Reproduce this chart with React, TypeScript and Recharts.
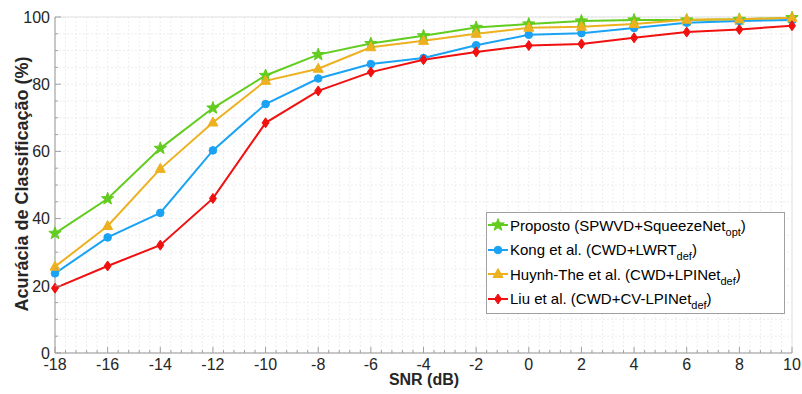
import { LineChart, Line, XAxis, YAxis, CartesianGrid } from "recharts";

// SNR (dB) and classification accuracy (%) per method
const snr = [-18, -16, -14, -12, -10, -8, -6, -4, -2, 0, 2, 4, 6, 8, 10];
const proposto = [35.6, 45.9, 60.9, 72.9, 82.6, 88.8, 92.1, 94.4, 96.9, 97.9, 98.8, 99.1, 99.1, 99.3, 99.8];
const kong = [23.7, 34.4, 41.7, 60.3, 74.1, 81.7, 86.0, 87.8, 91.6, 94.7, 95.2, 96.7, 98.3, 98.8, 99.1];
const huynh = [25.7, 37.8, 54.8, 68.6, 81.0, 84.6, 91.0, 92.9, 95.0, 96.8, 97.1, 97.9, 99.2, 99.3, 99.8];
const liu = [19.3, 25.9, 32.1, 46.0, 68.5, 78.0, 83.6, 87.3, 89.6, 91.5, 92.0, 93.8, 95.5, 96.3, 97.4];

const xTicks = [-18, -16, -14, -12, -10, -8, -6, -4, -2, 0, 2, 4, 6, 8, 10];
const yTicks = [0, 20, 40, 60, 80, 100];

// minor ticks: 5 per x step, 4 per y step
const xMinor = Array.from({ length: 71 }, (_, i) => Math.round((-18 + i * 0.4) * 10) / 10);
const yMinor = Array.from({ length: 21 }, (_, i) => i * 5);

const data = snr.map((s, i) => ({
    snr: s,
    proposto: proposto[i],
    kong: kong[i],
    huynh: huynh[i],
    liu: liu[i],
}));

const GREEN = "#62cc1f";
const BLUE = "#1aa3f5";
const ORANGE = "#edb120";
const RED = "#f01010";
const AXIS = "#a0a0a0";
const TEXT = "#262626";
const FONT = "'Liberation Sans', Arial, sans-serif";

const onStep = (v: number, step: number) => Math.abs(v / step - Math.round(v / step)) < 1e-6;

function Star({ cx, cy, color }: any) {
    const pts: string[] = [];
    for (let i = 0; i < 10; i++) {
        const r = i % 2 === 0 ? 6.5 : 2.7;
        const a = -Math.PI / 2 + (i * Math.PI) / 5;
        pts.push(`${cx + r * Math.cos(a)},${cy + r * Math.sin(a)}`);
    }
    return <polygon points={pts.join(" ")} fill={color} stroke={color} strokeWidth={1} />;
}

function Circle({ cx, cy, color }: any) {
    return <circle cx={cx} cy={cy} r={3.8} fill={color} stroke={color} />;
}

function Triangle({ cx, cy, color }: any) {
    return (
        <polygon
            points={`${cx},${cy - 5.5} ${cx + 5},${cy + 3.5} ${cx - 5},${cy + 3.5}`}
            fill={color}
            stroke={color}
            strokeWidth={1}
        />
    );
}

function Diamond({ cx, cy, color }: any) {
    return (
        <polygon
            points={`${cx},${cy - 5} ${cx + 3.5},${cy} ${cx},${cy + 5} ${cx - 3.5},${cy}`}
            fill={color}
            stroke={color}
            strokeWidth={1}
        />
    );
}

const series = [
    { key: "proposto", color: GREEN, Marker: Star, label: "Proposto (SPWVD+SqueezeNet", sub: "opt" },
    { key: "kong", color: BLUE, Marker: Circle, label: "Kong et al. (CWD+LWRT", sub: "def" },
    { key: "huynh", color: ORANGE, Marker: Triangle, label: "Huynh-The et al. (CWD+LPINet", sub: "def" },
    { key: "liu", color: RED, Marker: Diamond, label: "Liu et al. (CWD+CV-LPINet", sub: "def" },
];

function BottomTick({ x, y, payload }: any) {
    const major = onStep(payload.value, 2);
    return (
        <g>
            <line x1={x} x2={x} y1={y} y2={y - (major ? 6 : 3)} stroke={AXIS} />
            {major && (
                <text x={x} y={y + 16.5} textAnchor="middle" fontSize={16} fill={TEXT} fontFamily={FONT}>
                    {payload.value}
                </text>
            )}
        </g>
    );
}

function TopTick({ x, y, payload }: any) {
    const major = onStep(payload.value, 2);
    return <line x1={x} x2={x} y1={y} y2={y + (major ? 6 : 3)} stroke={AXIS} />;
}

function LeftTick({ x, y, payload }: any) {
    const major = onStep(payload.value, 20);
    return (
        <g>
            <line x1={x} x2={x + (major ? 6 : 3)} y1={y} y2={y} stroke={AXIS} />
            {major && (
                <text x={x - 5} y={y} dy="0.36em" textAnchor="end" fontSize={16} fill={TEXT} fontFamily={FONT}>
                    {payload.value}
                </text>
            )}
        </g>
    );
}

function RightTick({ x, y, payload }: any) {
    const major = onStep(payload.value, 20);
    return <line x1={x} x2={x - (major ? 6 : 3)} y1={y} y2={y} stroke={AXIS} />;
}

function LegendBox() {
    return (
        <div
            style={{
                position: "absolute",
                left: 486,
                top: 212,
                width: 299,
                height: 102,
                boxSizing: "border-box",
                border: `1px solid ${AXIS}`,
                background: "#fff",
                fontFamily: FONT,
                fontSize: 15,
                color: "#000",
            }}
        >
            {series.map((s) => (
                <div key={s.key} style={{ height: 24.5, display: "flex", alignItems: "center", whiteSpace: "nowrap" }}>
                    <svg width={23} height={20} style={{ flex: "none" }}>
                        <line x1={1} x2={21} y1={10} y2={10} stroke={s.color} strokeWidth={2} />
                        <s.Marker cx={11} cy={10} color={s.color} />
                    </svg>
                    <span>
                        {s.label}
                        <span style={{ fontSize: 11, position: "relative", top: 5 }}>{s.sub}</span>)
                    </span>
                </div>
            ))}
        </div>
    );
}

export default function App() {
    return (
        <div style={{ position: "absolute", left: 0, top: 0, width: 802, height: 394, background: "#fff" }}>
            <LineChart width={802} height={394} data={data} margin={{ top: 17, right: 10, bottom: 0, left: 0 }}>
                <XAxis
                    xAxisId="b"
                    dataKey="snr"
                    type="number"
                    domain={[-18, 10]}
                    ticks={xMinor}
                    interval={0}
                    height={41}
                    tickSize={0}
                    tickMargin={0}
                    tickLine={false}
                    tick={<BottomTick />}
                    stroke={AXIS}
                />
                <XAxis
                    xAxisId="t"
                    orientation="top"
                    type="number"
                    domain={[-18, 10]}
                    ticks={xMinor}
                    interval={0}
                    height={0}
                    tickSize={0}
                    tickMargin={0}
                    tickLine={false}
                    tick={<TopTick />}
                    stroke={AXIS}
                />
                <XAxis
                    xAxisId="mx"
                    orientation="top"
                    type="number"
                    domain={[-18, 10]}
                    ticks={xTicks}
                    interval={0}
                    height={0}
                    tick={false}
                    tickLine={false}
                    axisLine={false}
                />
                <YAxis
                    yAxisId="l"
                    type="number"
                    domain={[0, 100]}
                    ticks={yMinor}
                    interval={0}
                    width={55}
                    tickSize={0}
                    tickMargin={0}
                    tickLine={false}
                    tick={<LeftTick />}
                    stroke={AXIS}
                />
                <YAxis
                    yAxisId="r"
                    orientation="right"
                    type="number"
                    domain={[0, 100]}
                    ticks={yMinor}
                    interval={0}
                    width={0}
                    tickSize={0}
                    tickMargin={0}
                    tickLine={false}
                    tick={<RightTick />}
                    stroke={AXIS}
                />
                <YAxis
                    yAxisId="my"
                    orientation="right"
                    type="number"
                    domain={[0, 100]}
                    ticks={yTicks}
                    interval={0}
                    width={0}
                    tick={false}
                    tickLine={false}
                    axisLine={false}
                />
                <CartesianGrid xAxisId="b" yAxisId="l" stroke="#ededed" strokeDasharray="2 2" />
                <CartesianGrid xAxisId="mx" yAxisId="my" stroke="#e2e2e2" />
                {series.map((s) => (
                    <Line
                        key={s.key}
                        xAxisId="b"
                        yAxisId="l"
                        dataKey={s.key}
                        type="linear"
                        stroke={s.color}
                        strokeWidth={2}
                        isAnimationActive={false}
                        dot={(p: any) => <s.Marker key={`${s.key}-${p.index}`} cx={p.cx} cy={p.cy} color={s.color} />}
                        activeDot={false}
                    />
                ))}
            </LineChart>
            <div
                style={{
                    position: "absolute",
                    left: 22,
                    top: 184,
                    transform: "translate(-50%, -50%) rotate(-90deg)",
                    whiteSpace: "nowrap",
                    fontFamily: FONT,
                    fontWeight: "bold",
                    fontSize: 18,
                    color: TEXT,
                }}
            >
                Acurácia de Classificação (%)
            </div>
            <div
                style={{
                    position: "absolute",
                    left: 424,
                    top: 372,
                    transform: "translateX(-50%)",
                    whiteSpace: "nowrap",
                    fontFamily: FONT,
                    fontWeight: "bold",
                    fontSize: 16,
                    lineHeight: "16px",
                    color: TEXT,
                }}
            >
                SNR (dB)
            </div>
            <LegendBox />
        </div>
    );
}
